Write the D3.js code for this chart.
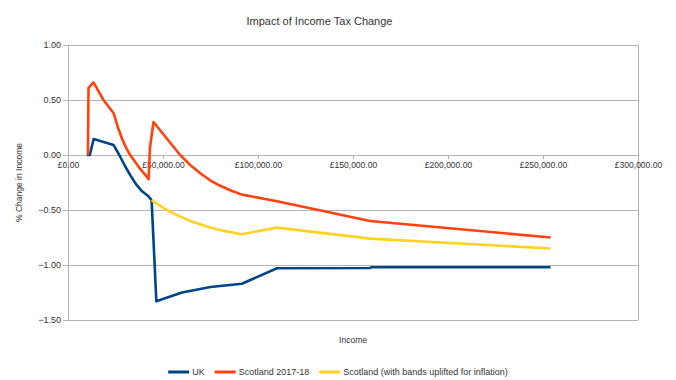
<!DOCTYPE html>
<html><head><meta charset="utf-8">
<script src="https://cdn.jsdelivr.net/npm/d3@7"></script>
<style>body{margin:0;background:#fff}svg{display:block;font-family:"Liberation Sans",Arial,sans-serif}</style>
</head><body><svg id="c" width="676" height="380"></svg>
<script>
const title = "Impact of Income Tax Change";
const xTitle = "Income";
const yTitle = "% Change in Income";
const seriesNames = ["UK", "Scotland 2017-18", "Scotland (with bands uplifted for inflation)"];
const seriesColors = ["#004586", "#ff420e", "#ffd320"];
const xTicks = [0, 50000, 100000, 150000, 200000, 250000, 300000];
const yTicks = [1.0, 0.5, 0.0, -0.5, -1.0, -1.5];

const ukIncome = [10000, 11500, 13500, 24000, 27000, 30000, 33000, 36000, 39000, 42000, 44000, 46500, 60000, 75000, 91500, 110000, 159000, 159500, 254000];
const ukChange = [0, 0, 0.145, 0.09, 0.0, -0.10, -0.19, -0.27, -0.33, -0.37, -0.41, -1.33, -1.25, -1.20, -1.17, -1.03, -1.027, -1.02, -1.02];

const scotIncome = [10500, 10800, 13400, 18700, 24000, 26400, 28500, 30600, 32700, 35400, 38000, 40700, 42400, 43200, 45000, 52000, 59000, 64300, 69600, 74800, 80100, 85400, 91500, 110000, 159000, 254000];
const scotChange = [0, 0.61, 0.66, 0.50, 0.38, 0.245, 0.145, 0.064, 0.0, -0.064, -0.127, -0.18, -0.22, 0.075, 0.30, 0.15, 0.0, -0.09, -0.166, -0.23, -0.28, -0.32, -0.36, -0.42, -0.60, -0.75];

const upliftIncome = [44000, 51000, 59000, 66000, 73000, 82000, 91500, 110000, 159000, 254000];
const upliftChange = [-0.41, -0.49, -0.56, -0.61, -0.65, -0.69, -0.72, -0.66, -0.76, -0.85];

const svg = d3.select("#c");
const L = 68, R = 638, T = 45, B = 320;
const x = d3.scaleLinear().domain([0, 300000]).range([L, R]);
const y = d3.scaleLinear().domain([-1.5, 1.0]).range([B, T]);
const gray = "#b3b3b3";
const txt = "#333";

// horizontal grid
svg.append("g").selectAll("line").data(yTicks).join("line")
  .attr("x1", L).attr("x2", R).attr("y1", d => y(d)).attr("y2", d => y(d))
  .attr("stroke", gray).attr("stroke-width", 1).attr("shape-rendering", "crispEdges");
// left and right borders
svg.append("line").attr("x1", L).attr("x2", L).attr("y1", T).attr("y2", B).attr("stroke", gray).attr("shape-rendering", "crispEdges");
svg.append("line").attr("x1", R).attr("x2", R).attr("y1", T).attr("y2", B).attr("stroke", gray).attr("shape-rendering", "crispEdges");

// y axis
const yAxis = d3.axisLeft(y).tickValues(yTicks).tickFormat(d3.format(".2f")).tickSize(5).tickPadding(2);
const gy = svg.append("g").attr("transform", `translate(${L},0)`).call(yAxis);
gy.select(".domain").remove();
gy.selectAll(".tick line").attr("stroke", gray).attr("shape-rendering", "crispEdges");
gy.selectAll(".tick text").attr("fill", txt).style("font-size", "9px").style("font-family", "Liberation Sans");

// x axis at y=0
const xAxis = d3.axisBottom(x).tickValues(xTicks).tickFormat(d => "£" + d3.format(",.2f")(d)).tickSize(4).tickPadding(3);
const gx = svg.append("g").attr("transform", `translate(0,${y(0)})`).call(xAxis);
gx.select(".domain").remove();
gx.selectAll(".tick line").attr("stroke", gray).attr("shape-rendering", "crispEdges");
gx.selectAll(".tick text").attr("fill", txt).style("font-size", "8.5px").style("font-family", "Liberation Sans");

// lines
const line = d3.line().x(d => x(d[0])).y(d => y(d[1]));
const series = [
  d3.zip(ukIncome, ukChange),
  d3.zip(scotIncome, scotChange),
  d3.zip(upliftIncome, upliftChange)
];
svg.append("g").selectAll("path").data(series).join("path")
  .attr("d", line).attr("fill", "none")
  .attr("stroke", (d, i) => seriesColors[i]).attr("stroke-width", 2.6)
  .attr("stroke-linejoin", "round");

// titles
svg.append("text").attr("x", 319.5).attr("y", 25).attr("text-anchor", "middle")
  .attr("fill", txt).style("font-size", "11px").text(title);
svg.append("text").attr("x", (L + R) / 2).attr("y", 343).attr("text-anchor", "middle")
  .attr("fill", txt).style("font-size", "8.5px").text(xTitle);
svg.append("text").attr("transform", `translate(22,${(T + B) / 2}) rotate(-90)`).attr("text-anchor", "middle")
  .attr("fill", txt).style("font-size", "8.5px").text(yTitle);

// legend
const lg = svg.append("g");
let cx = 0;
seriesNames.forEach((n, i) => {
  lg.append("line").attr("x1", cx).attr("x2", cx + 21).attr("y1", 0).attr("y2", 0)
    .attr("stroke", seriesColors[i]).attr("stroke-width", 3);
  const t = lg.append("text").attr("x", cx + 24).attr("y", 3.2).attr("fill", txt)
    .style("font-size", "9px").text(n);
  cx += 24 + t.node().getComputedTextLength() + 10;
});
const lw = cx - 10;
lg.attr("transform", `translate(${338 - lw / 2},372)`);
</script></body></html>
